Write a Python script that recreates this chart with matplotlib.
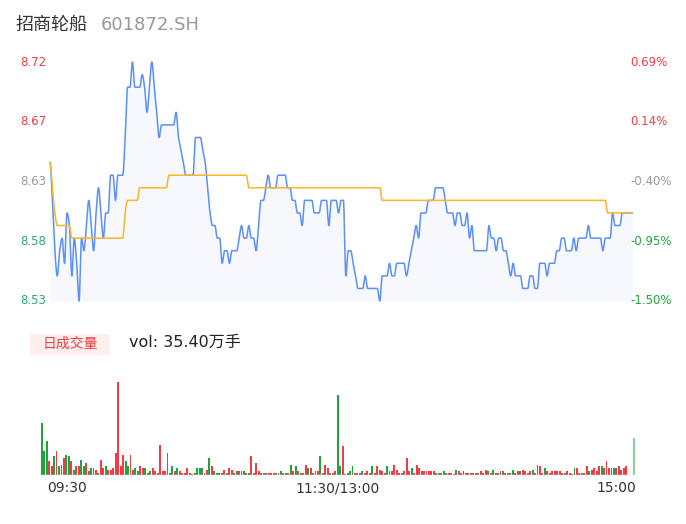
import numpy as np
import matplotlib
matplotlib.use("Agg")
import matplotlib.pyplot as plt
import matplotlib.transforms as mtransforms
from matplotlib.patches import Rectangle

# ---- data ----
price = [
    8.64, 8.61, 8.57, 8.55, 8.57, 8.58, 8.56, 8.60, 8.59, 8.55, 8.58, 8.56, 8.53, 8.58, 8.57, 8.59, 8.61, 8.59, 8.57, 8.60,
    8.62, 8.60, 8.58, 8.60, 8.60, 8.63, 8.63, 8.61, 8.63, 8.63, 8.63, 8.66, 8.70, 8.70, 8.72, 8.70, 8.70, 8.70, 8.71, 8.70,
    8.68, 8.70, 8.72, 8.70, 8.68, 8.66, 8.67, 8.67, 8.67, 8.67, 8.67, 8.67, 8.68, 8.66, 8.65, 8.64, 8.63, 8.63, 8.63, 8.63,
    8.66, 8.66, 8.66, 8.65, 8.64, 8.62, 8.60, 8.59, 8.59, 8.58, 8.58, 8.56, 8.57, 8.57, 8.56, 8.57, 8.57, 8.57, 8.58, 8.59,
    8.58, 8.58, 8.59, 8.58, 8.58, 8.57, 8.59, 8.61, 8.61, 8.62, 8.63, 8.62, 8.62, 8.62, 8.63, 8.63, 8.63, 8.63, 8.62, 8.62,
    8.61, 8.61, 8.60, 8.60, 8.59, 8.61, 8.61, 8.61, 8.61, 8.60, 8.60, 8.60, 8.61, 8.61, 8.61, 8.59, 8.61, 8.61, 8.61, 8.60,
    8.61, 8.61, 8.55, 8.57, 8.57, 8.56, 8.55, 8.54, 8.54, 8.54, 8.55, 8.54, 8.54, 8.54, 8.54, 8.54, 8.53, 8.55, 8.55, 8.55,
    8.56, 8.55, 8.55, 8.56, 8.56, 8.56, 8.56, 8.55, 8.56, 8.57, 8.58, 8.59, 8.58, 8.60, 8.60, 8.60, 8.61, 8.61, 8.61, 8.62,
    8.62, 8.62, 8.62, 8.61, 8.60, 8.60, 8.60, 8.59, 8.60, 8.60, 8.59, 8.59, 8.60, 8.58, 8.59, 8.57, 8.57, 8.57, 8.57, 8.57,
    8.57, 8.59, 8.58, 8.58, 8.57, 8.58, 8.58, 8.57, 8.57, 8.56, 8.55, 8.56, 8.55, 8.55, 8.55, 8.54, 8.54, 8.54, 8.55, 8.55,
    8.54, 8.54, 8.56, 8.56, 8.56, 8.55, 8.56, 8.56, 8.56, 8.57, 8.57, 8.58, 8.58, 8.57, 8.57, 8.57, 8.58, 8.57, 8.58, 8.58,
    8.58, 8.58, 8.59, 8.58, 8.58, 8.58, 8.58, 8.58, 8.57, 8.58, 8.58, 8.58, 8.60, 8.59, 8.59, 8.59, 8.60, 8.60, 8.60, 8.60,
    8.60,
]

# average price line, as levels and how many minutes each lasts
avg_levels = [8.64, 8.62, 8.60, 8.59, 8.58, 8.60, 8.61, 8.62, 8.63, 8.62, 8.61, 8.60]
avg_runs = [1, 1, 1, 6, 22, 1, 5, 12, 33, 55, 93, 11]

# volume per minute (手)
volume = [
    11750, 5200, 7460, 3160, 1810, 4290, 5200, 2030, 2260, 3840, 4520, 4290, 2940, 1130, 1810, 1810, 3390, 2030, 2710, 900,
    1580, 1580, 1130, 450, 3390, 1360, 1810, 1130, 1130, 1360, 4750, 21020, 2030, 4520, 2940, 1810, 4520, 1130, 1580, 900,
    2030, 1580, 1360, 450, 680, 1360, 900, 230, 6780, 680, 680, 4970, 450, 2030, 900, 1360, 900, 230, 230, 1360,
    230, 100, 230, 1580, 1580, 1360, 450, 1130, 3840, 1810, 680, 450, 450, 230, 1130, 230, 1360, 1130, 450, 680,
    900, 680, 680, 450, 450, 4070, 230, 2490, 900, 450, 450, 230, 450, 230, 230, 230, 230, 680, 230, 450,
    230, 2260, 680, 1810, 900, 450, 230, 2260, 1360, 1580, 450, 680, 680, 4070, 230, 2260, 1580, 450, 230, 680,
    18080, 2030, 6550, 100, 230, 900, 2030, 450, 450, 450, 900, 230, 900, 230, 1810, 230, 2030, 1130, 680, 230,
    1810, 680, 680, 2260, 1130, 230, 450, 680, 3620, 680, 1580, 230, 2260, 1360, 900, 680, 680, 680, 680, 900,
    450, 450, 450, 680, 230, 230, 230, 100, 1130, 900, 450, 680, 450, 450, 450, 230, 230, 230, 680, 450,
    1130, 680, 230, 1130, 450, 450, 900, 680, 450, 230, 230, 1130, 230, 900, 680, 1130, 900, 450, 680, 1130,
    230, 2260, 1810, 450, 1580, 680, 230, 680, 680, 680, 680, 230, 450, 680, 230, 100, 1360, 1360, 450, 450,
    450, 1810, 900, 1130, 1360, 900, 2030, 1810, 1580, 2940, 1360, 1360, 1360, 1360, 1810, 1130, 1580, 2030, 0, 0,
    8140,
]
# r = up minute, g = down minute
vol_dir = ("gggrrgrggr" "ggrgrrggrr" "ggrgrrgrrr" "rrrrggrrgg" "rrgggrrrrr"
           "rrggrgrrrr" "rrggggrrgr" "gggrrgrrrg" "rrgrgrrrrr" "grrrrrggrg"
           "rgrgrgrrgr" "rrrgrrrgrr" "ggrrgggrrr" "grrrgrrrrr" "grrrrrgrrr"
           "grrrrrrrrr" "ggrgrrrrgr" "rgrrgrrgrr" "rgrgrrgrgr" "ggrrgrrrrg"
           "rrrrgrrrrr" "rrgrrrgrrr" "rrgrrrrgrr" "rrgrrrrrrr" "g")

y_ticks = [8.72, 8.6725, 8.625, 8.5775, 8.53]
y_labels = ["8.72", "8.67", "8.63", "8.58", "8.53"]
pct_labels = ["0.69%", "0.14%", "-0.40%", "-0.95%", "-1.50%"]
x_ticks = [0, 120, 240]
x_labels = ["09:30", "11:30/13:00", "15:00"]

RED = "#f23b45"
GREEN = "#1ea63c"
LEFT_GREEN = "#2aa67d"
GREY = "#9a9a9a"
CJK = ["Noto Sans CJK SC", "DejaVu Sans"]


def smooth(y, n=12):
    # monotone cubic (pchip style) so the line looks like the web chart
    y = np.asarray(y, float)
    d = np.diff(y)
    m = np.zeros_like(y)
    for k in range(1, len(y) - 1):
        if d[k - 1] * d[k] > 0:
            m[k] = 2.0 / (1.0 / d[k - 1] + 1.0 / d[k])
    xs = np.linspace(0, len(y) - 1, (len(y) - 1) * n + 1)
    k = np.minimum(xs.astype(int), len(y) - 2)
    t = xs - k
    h00 = 2 * t**3 - 3 * t**2 + 1
    h10 = t**3 - 2 * t**2 + t
    h01 = -2 * t**3 + 3 * t**2
    h11 = t**3 - t**2
    ys = h00 * y[k] + h10 * m[k] + h01 * y[k + 1] + h11 * m[k + 1]
    return xs, ys


W, H = 686, 524
fig = plt.figure(figsize=(W / 100, H / 100), dpi=100)

# title
fig.text(15 / W, 1 - 25 / H, "招商轮船", fontsize=13, color="#333333", family=CJK, va="center")
fig.text(101 / W, 1 - 25 / H, "601872.SH", fontsize=13, color="#999999", va="center")

# ---- price panel ----
ax = fig.add_axes([50 / W, 1 - 301 / H, 582 / W, 239 / H])
ax.set_xlim(0, len(price) - 1)
ax.set_ylim(8.53, 8.72)
ax.axis("off")

xs, ys = smooth(price)
ax.fill_between(xs, ys, 8.53, color="#f6f8fe", lw=0)
ax.plot(xs, ys, color="#5b8ff9", lw=1.1, clip_on=False)

avg = np.repeat(avg_levels, avg_runs)
xa, ya = smooth(avg)
ax.plot(xa, ya, color="#fbb528", lw=1.1)

lab_cols = [RED, RED, GREY, LEFT_GREEN, LEFT_GREEN]
pct_cols = [RED, RED, GREY, GREEN, GREEN]
tr = ax.get_yaxis_transform()
for v, lab, pl, c1, c2 in zip(y_ticks, y_labels, pct_labels, lab_cols, pct_cols):
    ax.text(-4 / 582, v, lab, transform=tr, ha="right", va="center", fontsize=8.5, color=c1)
    ax.text(580 / 582, v, pl, transform=tr, ha="left", va="center", fontsize=8.5, color=c2)

# ---- volume header ----
fig.patches.append(Rectangle((30 / W, 1 - 355 / H), 80 / W, 21 / H, transform=fig.transFigure,
                             facecolor="#fdf0ec", edgecolor="none"))
fig.text(70 / W, 1 - 344 / H, "日成交量", fontsize=10, color=RED, family=CJK, ha="center", va="center")
fig.text(129 / W, 1 - 342 / H, "vol: 35.40万手", fontsize=11.5, color="#222222", family=CJK[::-1], va="center")

# ---- volume panel ----
vmax = max(volume)
axv = fig.add_axes([40.5 / W, 1 - 474.5 / H, 594.4 / W, 93 * 1.1 / H])
idx = np.arange(len(volume))
cols = [RED if c == "r" else GREEN for c in vol_dir]
cols[-1] = "#8ad49a"
axv.bar(idx, volume, width=0.78, color=cols, lw=0)
axv.set_xlim(-0.5, len(volume) - 0.5)
axv.set_ylim(0, vmax * 1.1)
axv.axhline(0, color="#dddddd", lw=1)
for s in axv.spines.values():
    s.set_visible(False)
axv.set_yticks([])
axv.set_xticks(x_ticks)
axv.set_xticklabels(x_labels, fontsize=10, color="#333333")
axv.tick_params(axis="x", length=0, pad=5)
tl = axv.get_xticklabels()
tl[0].set_ha("left")
tl[-1].set_ha("right")
tl[0].set_transform(tl[0].get_transform() + mtransforms.ScaledTranslation(5 / 100, 0, fig.dpi_scale_trans))
tl[-1].set_transform(tl[-1].get_transform() + mtransforms.ScaledTranslation(3 / 100, 0, fig.dpi_scale_trans))

fig.savefig("out.png", dpi=100)
